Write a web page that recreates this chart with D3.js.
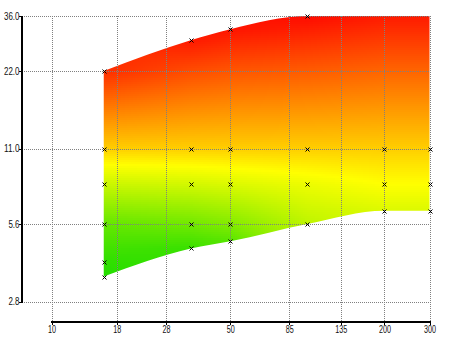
<!DOCTYPE html>
<html><head><meta charset="utf-8">
<script src="https://cdn.jsdelivr.net/npm/d3@7"></script>
<style>body{margin:0;background:#fff}svg{display:block}</style>
</head><body>
<svg id="c" width="450" height="337"></svg>
<script>
// ---- data ----
const xTicks = [10, 18, 28, 50, 85, 135, 200, 300];
const yTicks = [2.8, 5.6, 11.0, 22.0, 36.0];
const colX = [16, 35, 50, 100, 200, 300];
const colY = [
  [3.5, 4, 5.6, 8, 11, 22],
  [4.5, 5.6, 8, 11, 29],
  [4.8, 5.6, 8, 11, 32],
  [5.6, 8, 11, 36],
  [6.3, 8, 11, 40],
  [6.3, 8, 11, 40]
];
const colZ = [
  [0.0, 0.03, 0.15, 0.38, 0.6, 0.93],
  [0.05, 0.18, 0.40, 0.6, 0.97],
  [0.12, 0.22, 0.42, 0.6, 0.98],
  [0.35, 0.46, 0.6, 1.0],
  [0.42, 0.50, 0.6, 1.0],
  [0.42, 0.50, 0.6, 1.0]
];
const topY = [22, 29, 32, 36, 36, 36];
const botY = [3.5, 4.5, 4.8, 5.6, 6.3, 6.3];

// ---- scales ----
const svg = d3.select('#c');
const x = d3.scaleLog().domain([10, 300]).range([51.5, 429.5]);
const y = d3.scaleLog().domain([2.8, 36]).range([301.5, 16]);
const color = d3.scaleLinear().domain([0, 0.5, 1])
  .range(['#22dd00', '#ffff00', '#ff0a00']).clamp(true);

function colZat(i, v) {
  const ys = colY[i], zs = colZ[i], n = ys.length;
  if (v <= ys[0]) return zs[0];
  if (v >= ys[n - 1]) return zs[n - 1];
  for (let j = 0; j < n - 1; j++) {
    if (v <= ys[j + 1]) {
      const f = Math.log(v / ys[j]) / Math.log(ys[j + 1] / ys[j]);
      return zs[j] + f * (zs[j + 1] - zs[j]);
    }
  }
  return zs[n - 1];
}
function zAt(u, v) {
  let i = 0;
  while (i < colX.length - 2 && u > colX[i + 1]) i++;
  let f = Math.log(u / colX[i]) / Math.log(colX[i + 1] / colX[i]);
  f = Math.max(0, Math.min(1, f));
  return colZat(i, v) * (1 - f) + colZat(i + 1, v) * f;
}

// ---- clip region ----
const bnd = colX.map((c, i) => ({x: c, t: Math.min(topY[i], 36), b: botY[i]}));
const area = d3.area().x(d => x(d.x)).y0(d => y(d.b)).y1(d => y(d.t)).curve(d3.curveMonotoneX);
svg.append('defs').append('clipPath').attr('id', 'clip')
  .append('path').attr('d', area(bnd));

// ---- cells ----
const step = 2;
const cells = [];
const x0 = Math.floor(x(colX[0])), x1 = Math.ceil(x(colX[colX.length - 1]));
for (let px = x0; px < x1; px += step) {
  for (let py = 16; py < 302; py += step) {
    const u = x.invert(px + step / 2), v = y.invert(py + step / 2);
    cells.push({px, py, z: zAt(u, v)});
  }
}
svg.append('g').attr('clip-path', 'url(#clip)').attr('shape-rendering', 'crispEdges')
  .selectAll('rect').data(cells).join('rect')
  .attr('x', d => d.px).attr('y', d => d.py)
  .attr('width', step).attr('height', step)
  .attr('fill', d => color(d.z));

// ---- grid ----
const grid = svg.append('g').attr('stroke', '#808080').attr('stroke-dasharray', '1,1')
  .attr('shape-rendering', 'crispEdges');
grid.selectAll('.h').data(yTicks).join('line')
  .attr('x1', 22).attr('x2', 430)
  .attr('y1', d => Math.round(y(d)) + 0.5).attr('y2', d => Math.round(y(d)) + 0.5);
grid.selectAll('.v').data(xTicks).join('line')
  .attr('y1', 16).attr('y2', 322)
  .attr('x1', d => Math.round(x(d)) + 0.5).attr('x2', d => Math.round(x(d)) + 0.5);

// ---- markers ----
const pts = [];
colX.forEach((c, i) => colY[i].forEach(v => { if (v <= 36) pts.push({u: c, v}); }));
svg.append('g').selectAll('path').data(pts).join('path')
  .attr('transform', d => `translate(${Math.round(x(d.u)) + 0.5},${Math.round(y(d.v)) + 0.5})`)
  .attr('d', 'M-2,-2L2,2M-2,2L2,-2')
  .attr('stroke', '#000').attr('stroke-width', 1).attr('fill', 'none');

// ---- axes ----
const ax = svg.append('g').attr('stroke', '#000').attr('shape-rendering', 'crispEdges');
ax.append('line').attr('x1', 22).attr('x2', 22).attr('y1', 16).attr('y2', Math.round(y(2.8)) + 1).attr('stroke-width', 2);
ax.append('line').attr('x1', 51).attr('x2', 431).attr('y1', 322).attr('y2', 322).attr('stroke-width', 2);
ax.selectAll('.yt').data(yTicks).join('line')
  .attr('x1', 19).attr('x2', 22)
  .attr('y1', d => Math.round(y(d)) + 0.5).attr('y2', d => Math.round(y(d)) + 0.5);
ax.selectAll('.xt').data(xTicks).join('line')
  .attr('y1', 322).attr('y2', 325)
  .attr('x1', d => Math.round(x(d)) + 0.5).attr('x2', d => Math.round(x(d)) + 0.5);

const tw = (s, dw) => Array.from(s).reduce((a, ch) => a + (ch === '.' ? 2.3 : dw), 0);
svg.append('g').attr('font-family', 'Liberation Sans, Arial, sans-serif').attr('font-size', 10).attr('fill', '#111')
  .selectAll('text').data(yTicks).join('text')
  .attr('x', 19.5).attr('y', d => y(d) + 3.5).attr('text-anchor', 'end')
  .attr('textLength', d => tw(d.toFixed(1), 4.4)).attr('lengthAdjust', 'spacingAndGlyphs')
  .text(d => d.toFixed(1));
svg.append('g').attr('font-family', 'Liberation Sans, Arial, sans-serif').attr('font-size', 10).attr('fill', '#111')
  .selectAll('text').data(xTicks).join('text')
  .attr('x', d => x(d) + 0.5).attr('y', 332.5).attr('text-anchor', 'middle')
  .attr('textLength', d => tw(String(d), 4.0)).attr('lengthAdjust', 'spacingAndGlyphs')
  .text(d => String(d));
</script>
</body></html>
